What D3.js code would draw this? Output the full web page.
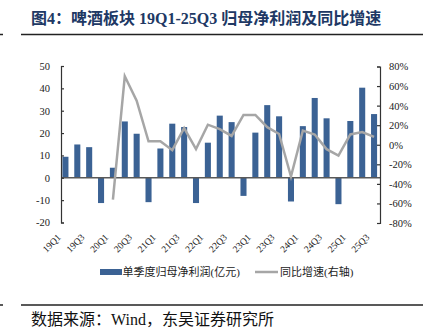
<!DOCTYPE html>
<html>
<head>
<meta charset="utf-8">
<script src="https://cdn.jsdelivr.net/npm/d3@7"></script>
<style>
  html, body { margin: 0; padding: 0; background: #fff; }
  svg { display: block; }
</style>
</head>
<body>
<div id="chart"></div>
<script>
const quarters = ["19Q1","19Q2","19Q3","19Q4","20Q1","20Q2","20Q3","20Q4","21Q1","21Q2","21Q3","21Q4","22Q1","22Q2","22Q3","22Q4","23Q1","23Q2","23Q3","23Q4","24Q1","24Q2","24Q3","24Q4","25Q1","25Q2","25Q3"];
const profit = [9.4, 14.9, 13.7, -11.3, 4.5, 25.2, 19.7, -10.9, 13.1, 24.2, 22.7, -11.3, 15.7, 27.8, 24.9, -8.1, 20.2, 32.5, 27.5, -10.6, 23.1, 35.7, 26.6, -11.8, 25.4, 40.3, 28.5];
const yoy = [null, null, null, null, -56, 70, 45, 3.5, 3.5, -5.5, 17, -4.5, 20.5, 16, 9, 30.5, 30.5, 18, 11, -32.5, 14.5, 10.5, -4.5, -11, 10.5, 13, 8];
const leftTicks = [-20, -10, 0, 10, 20, 30, 40, 50];
const rightTicks = [-80, -60, -40, -20, 0, 20, 40, 60, 80];
const xLabels = ["19Q1","19Q3","20Q1","20Q3","21Q1","21Q3","22Q1","22Q3","23Q1","23Q3","24Q1","24Q3","25Q1","25Q3"];
const titleText = "图4：啤酒板块 19Q1-25Q3 归母净利润及同比增速";
const sourceText = "数据来源：Wind，东吴证券研究所";
const legendBar = "单季度归母净利润(亿元)";
const legendLine = "同比增速(右轴)";

const W = 434, H = 332;
const serif = "'Liberation Serif', 'Noto Sans CJK SC', serif";
const svg = d3.select("#chart").append("svg").attr("width", W).attr("height", H);

// title
svg.append("text").attr("x", 31).attr("y", 24)
  .attr("font-family", serif).attr("font-size", 16).attr("font-weight", "bold")
  .attr("fill", "#203864").text(titleText);
svg.append("line").attr("x1", 21).attr("x2", 423).attr("y1", 34.5).attr("y2", 34.5)
  .attr("stroke", "#222").attr("stroke-width", 1.5);
svg.append("line").attr("x1", 0).attr("x2", 3).attr("y1", 34.5).attr("y2", 34.5)
  .attr("stroke", "#222").attr("stroke-width", 1.5);

// scales
const x = d3.scaleBand().domain(quarters).range([59.5, 380]).paddingInner(0.49).paddingOuter(0.245);
const yL = d3.scaleLinear().domain([-20, 50]).range([222.5, 66]);
const yR = d3.scaleLinear().domain([-80, 80]).range([223, 66.5]);

// bars
svg.append("g").selectAll("rect").data(quarters).join("rect")
  .attr("x", d => x(d))
  .attr("width", x.bandwidth())
  .attr("y", (d, i) => yL(Math.max(0, profit[i])))
  .attr("height", (d, i) => Math.abs(yL(profit[i]) - yL(0)))
  .attr("fill", "#3b6294");

// zero line
svg.append("line").attr("x1", 61).attr("x2", 380).attr("y1", yL(0)).attr("y2", yL(0))
  .attr("stroke", "#595959").attr("stroke-width", 1.5);

// line
const lineData = quarters.map((q, i) => ({q, v: yoy[i]})).filter(d => d.v !== null);
svg.append("path").datum(lineData)
  .attr("d", d3.line().x(d => x(d.q) + x.bandwidth() / 2).y(d => yR(d.v)))
  .attr("fill", "none").attr("stroke", "#a6a6a6").attr("stroke-width", 2.5)
  .attr("stroke-linejoin", "miter");

// axes
const axL = svg.append("g").attr("transform", "translate(61,0)")
  .call(d3.axisLeft(yL).tickValues(leftTicks).tickSizeInner(-3).tickSizeOuter(-3).tickPadding(11)
    .tickFormat(d => String(d)));
const axR = svg.append("g").attr("transform", "translate(380,0)")
  .call(d3.axisRight(yR).tickValues(rightTicks).tickSizeInner(-3).tickSizeOuter(-3).tickPadding(9)
    .tickFormat(d => String(d) + "%"));
[axL, axR].forEach(ax => {
  ax.selectAll("path, line").attr("stroke", "#333").attr("stroke-width", 1.2);
  ax.selectAll("text").attr("font-family", serif).attr("font-size", 10.5).attr("fill", "#222");
});

// x labels
svg.append("g").selectAll("text").data(xLabels).join("text")
  .attr("transform", d => `translate(${x(d) + x.bandwidth() / 2 - 4},238) rotate(-45)`)
  .attr("text-anchor", "end")
  .attr("font-family", serif).attr("font-size", 9.5).attr("fill", "#222")
  .text(d => d);

// legend
svg.append("rect").attr("x", 100).attr("y", 269).attr("width", 22).attr("height", 6).attr("fill", "#3b6294");
svg.append("text").attr("x", 122.5).attr("y", 272).attr("dy", "0.35em")
  .attr("font-family", serif).attr("font-size", 11).attr("fill", "#222").text(legendBar);
svg.append("line").attr("x1", 255).attr("x2", 278).attr("y1", 272).attr("y2", 272)
  .attr("stroke", "#a6a6a6").attr("stroke-width", 2.5);
svg.append("text").attr("x", 280).attr("y", 272).attr("dy", "0.35em")
  .attr("font-family", serif).attr("font-size", 11).attr("fill", "#222").text(legendLine);

// source
svg.append("line").attr("x1", 21).attr("x2", 423).attr("y1", 305).attr("y2", 305)
  .attr("stroke", "#222").attr("stroke-width", 1.5);
svg.append("line").attr("x1", 0).attr("x2", 3).attr("y1", 305).attr("y2", 305)
  .attr("stroke", "#222").attr("stroke-width", 1.5);
svg.append("text").attr("x", 31).attr("y", 325)
  .attr("font-family", serif).attr("font-size", 16).attr("fill", "#111").text(sourceText);
</script>
</body>
</html>
